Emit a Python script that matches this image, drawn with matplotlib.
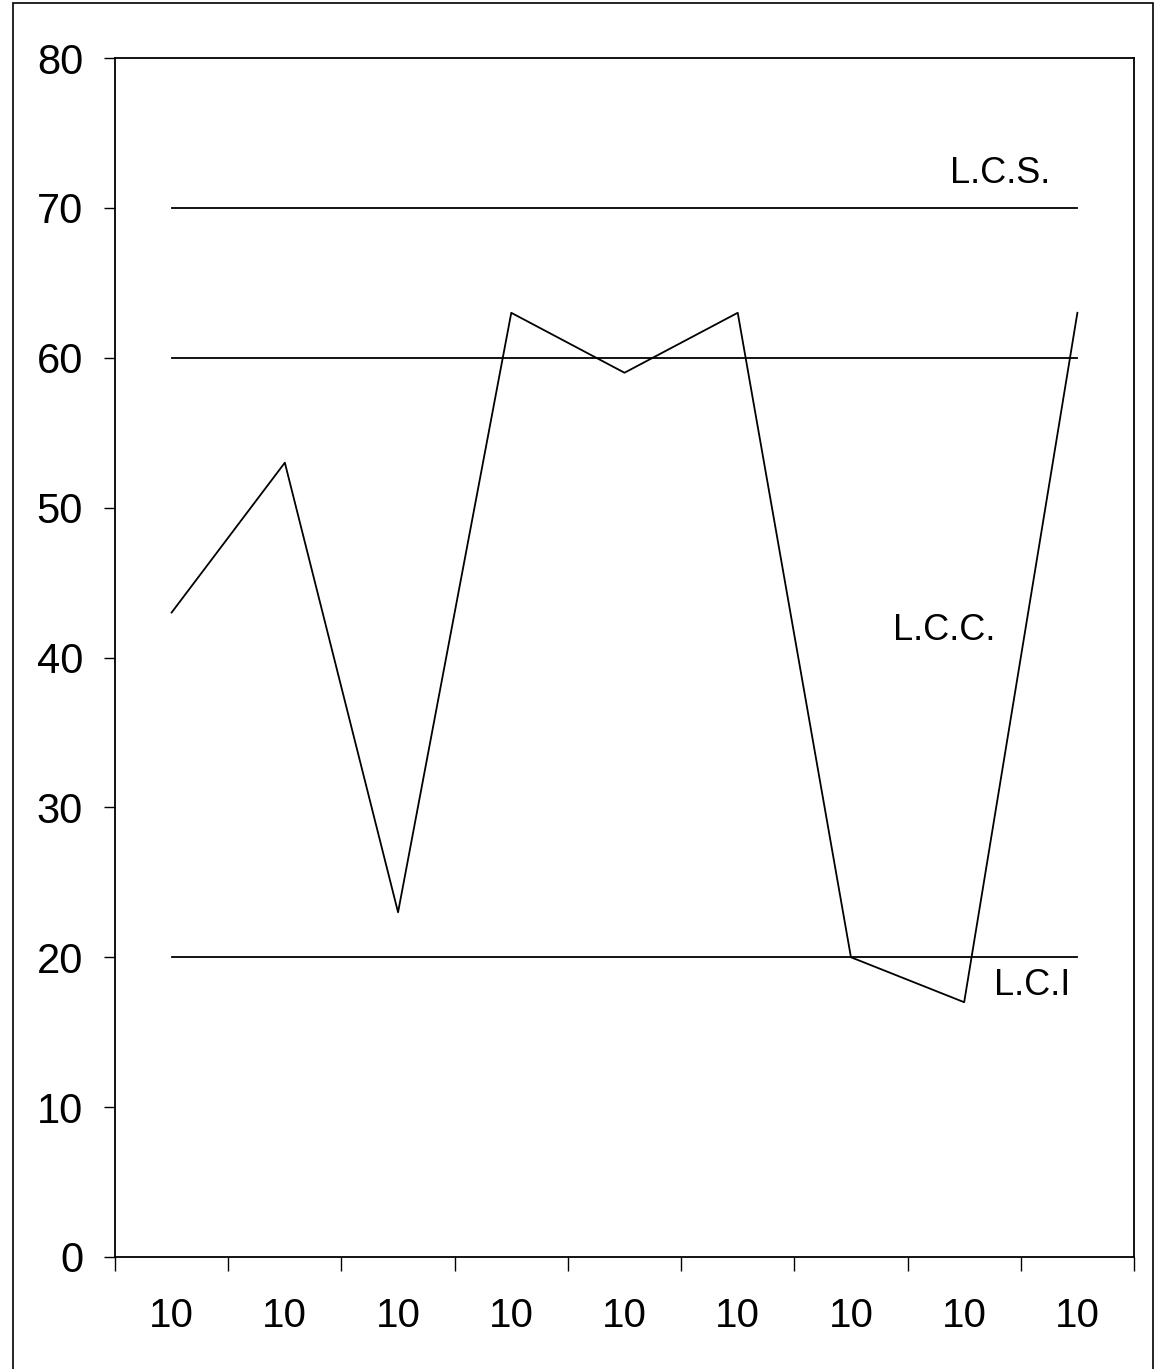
import matplotlib.pyplot as plt
from matplotlib.patches import Rectangle

plt.rcParams['font.family'] = ['Liberation Sans', 'DejaVu Sans']

categories = ['10'] * 9
values = [43, 53, 23, 63, 59, 63, 20, 17, 63]
lcs, lcc, lci = 70, 60, 20
y_ticks = [0, 10, 20, 30, 40, 50, 60, 70, 80]

fig = plt.figure(figsize=(11.57, 13.69), dpi=100)
ax = fig.add_axes([115 / 1157, 1 - 1257 / 1369, (1134 - 115) / 1157, (1257 - 58) / 1369])

x = list(range(len(values)))
ax.plot(x, values, color='black', lw=1.3)
for level in (lcs, lcc, lci):
    ax.plot([x[0], x[-1]], [level, level], color='black', lw=1.3)

ax.text(7.32, 72.3, 'L.C.S.', fontsize=26, ha='center', va='center')
ax.text(6.82, 41.8, 'L.C.C.', fontsize=26, ha='center', va='center')
ax.text(7.6, 18.1, 'L.C.I', fontsize=26, ha='center', va='center')

ax.set_xlim(-0.5, len(values) - 0.5)
ax.set_ylim(0, 80)
ax.set_yticks(y_ticks)
ax.tick_params(axis='y', labelsize=30, length=8, width=1, pad=15, direction='out')
ax.set_xticks([i - 0.5 for i in range(len(values) + 1)])
ax.set_xticklabels([])
ax.set_xticks(x, minor=True)
ax.set_xticklabels(categories, minor=True)
ax.tick_params(axis='x', which='major', length=10, width=1, direction='out')
ax.tick_params(axis='x', which='minor', length=0, labelsize=29, pad=29)
for s in ax.spines.values():
    s.set_linewidth(1.3)

# outer frame around the whole chart
fig.patches.append(Rectangle((13 / 1157, -0.01), (1153 - 13) / 1157, 1 - 3 / 1369 + 0.01,
                             transform=fig.transFigure, fill=False, ec='black', lw=1.2))

fig.savefig('out.png', dpi=100)
